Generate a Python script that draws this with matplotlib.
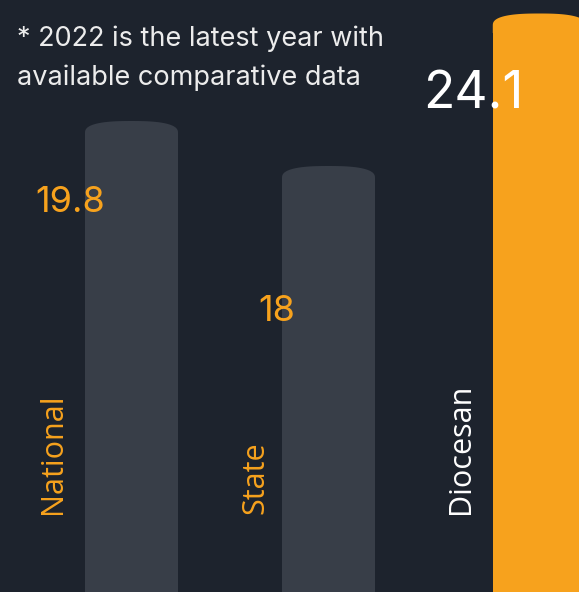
import matplotlib.pyplot as plt
from matplotlib.patches import Polygon
import numpy as np

# data
categories = ["National", "State", "Diocesan"]
values = [19.8, 18, 24.1]
value_labels = ["19.8", "18", "24.1"]
note = "* 2022 is the latest year with\navailable comparative data"

# colours
bg = "#1d232d"
grey = "#383e48"
orange = "#f7a21d"
white = "#ffffff"
bar_colors = [grey, grey, orange]
text_colors = [orange, orange, white]

W, H = 579, 592
fig = plt.figure(figsize=(W / 100, H / 100), dpi=100, facecolor=bg)
ax = fig.add_axes([0, 0, 1, 1])
ax.set_facecolor(bg)

# layout: pixels per unit on each axis, zero line sits below the picture
bar_x = np.array([0, 1, 2.07])
xs = 197.0
ys = 25.0
base = 628
ax.set_xlim(-131.5 / xs, (W - 131.5) / xs)
ax.set_ylim((base - H) / ys, base / ys)
ax.axis("off")

bw = 93 / xs
bars = ax.bar(bar_x, values, width=bw, color=bar_colors, lw=0, zorder=1)

# rounded (flattened) caps on top of each bar
cap = 12 / ys
t = np.linspace(0, np.pi, 80)
n = 2.6
for b, c in zip(bars, bar_colors):
    cx = b.get_x() + b.get_width() / 2
    top = b.get_y() + b.get_height()
    ct, st = np.cos(t), np.sin(t)
    xx = cx + b.get_width() / 2 * np.sign(ct) * np.abs(ct) ** (2 / n)
    yy = top + cap * np.abs(st) ** (2 / n)
    # run the cap a little into the bar so no seam shows
    xx = np.concatenate([[xx[0]], xx, [xx[-1]]])
    yy = np.concatenate([[top - 0.3], yy, [top - 0.3]])
    ax.add_patch(Polygon(np.column_stack([xx, yy]), closed=True,
                         color=c, zorder=1, lw=0))


def px(x, y):
    return x / W, 1 - y / H


num_font = ["Inter", "DejaVu Sans"]
lab_font = ["Open Sans", "DejaVu Sans"]

ax.text(*px(17, 58), note, transform=ax.transAxes, fontsize=19.5,
        color="#ececec", family=num_font, va="center", ha="left",
        linespacing=1.62, zorder=3)

num_pos = [(70, 202), (277, 312), (473, 95)]
num_size = [26, 26, 37]
for (x, y), s, tx, c in zip(num_pos, num_size, value_labels, text_colors):
    ax.text(*px(x, y), tx, transform=ax.transAxes, fontsize=s, color=c,
            family=num_font, ha="center", va="center", zorder=3)

lab_x = [53, 255, 461]
for x, tx, c in zip(lab_x, categories, text_colors):
    ax.text(*px(x, 514), tx, transform=ax.transAxes, fontsize=22, color=c,
            family=lab_font, rotation=90, ha="center", va="bottom",
            zorder=3)

fig.savefig("out.png", dpi=100, facecolor=bg)
